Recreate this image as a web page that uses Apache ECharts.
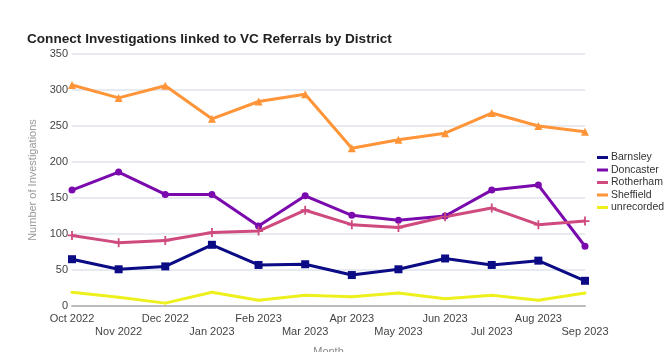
<!DOCTYPE html>
<html><head><meta charset="utf-8">
<script src="https://cdn.jsdelivr.net/npm/echarts@6/dist/echarts.min.js"></script>
<style>html,body{margin:0;padding:0;background:#fff}#c{width:670px;height:352px}</style>
</head><body><div id="c"></div>
<script>
const months = ['Oct 2022','Nov 2022','Dec 2022','Jan 2023','Feb 2023','Mar 2023','Apr 2023','May 2023','Jun 2023','Jul 2023','Aug 2023','Sep 2023'];
const barnsley   = [65, 51, 55, 85, 57, 58, 43, 51, 66, 57, 63, 35];
const doncaster  = [161, 186, 155, 155, 111, 153, 126, 119, 125, 161, 168, 83];
const rotherham  = [98, 88, 91, 102, 104, 133, 113, 109, 124, 136, 113, 118];
const sheffield  = [307, 289, 306, 260, 284, 294, 219, 231, 240, 268, 250, 242];
const unrecorded = [19, 12, 4, 19, 8, 15, 13, 18, 10, 15, 8, 18];
const yTicks = [0, 50, 100, 150, 200, 250, 300, 350];

const font = '"Liberation Sans", Arial, sans-serif';
function s(name, data, color, symbol, size) {
  return { name, type: 'line', data, color, symbol, symbolSize: size,
    lineStyle: { width: 3, color }, itemStyle: { color }, showSymbol: true };
}
const chart = echarts.init(document.getElementById('c'));
chart.setOption({
  animation: false,
  title: { text: 'Connect Investigations linked to VC Referrals by District', left: 22, top: 27,
    textStyle: { fontFamily: font, fontSize: 13.6, fontWeight: 'bold', color: '#222' } },
  grid: { left: 72, right: 85, top: 54, bottom: 46, containLabel: false, outerBoundsMode: 'none' },
  legend: { orient: 'vertical', left: 592, top: 147, itemWidth: 11, itemHeight: 3, itemGap: 1.5,
    icon: 'rect', textStyle: { fontFamily: font, fontSize: 10.5, color: '#333', padding: [0,0,0,-2] },
    data: ['Barnsley','Doncaster','Rotherham','Sheffield','unrecorded'] },
  xAxis: { type: 'category', data: months, boundaryGap: false,
    name: 'Month', nameLocation: 'middle', nameGap: 40,
    nameTextStyle: { fontFamily: font, fontSize: 11, color: '#888' },
    axisLine: { lineStyle: { color: '#bbb', width: 2 } }, axisTick: { show: false },
    axisLabel: { interval: 0, fontFamily: font, fontSize: 11, color: '#444', margin: 6,
      formatter: (v, i) => (i % 2 ? '\n' + v : v), lineHeight: 13 } },
  yAxis: { type: 'value', min: 0, max: 350, interval: 50,
    name: 'Number of Investigations', nameLocation: 'middle', nameGap: 27,
    nameTextStyle: { fontFamily: font, fontSize: 11, color: '#999' },
    axisLine: { show: false }, axisTick: { show: false },
    splitLine: { lineStyle: { color: '#dfe4ec', width: 1.5 } },
    axisLabel: { fontFamily: font, fontSize: 11, color: '#444', margin: 4,
      formatter: v => yTicks.includes(v) ? String(v) : '' } },
  series: [
    s('Barnsley', barnsley, '#0b0b85', 'rect', 8),
    s('Doncaster', doncaster, '#7a0aad', 'circle', 7),
    s('Rotherham', rotherham, '#cf4a7e', 'path://M4,0H6V4H10V6H6V10H4V6H0V4H4Z', 9),
    s('Sheffield', sheffield, '#ff9538', 'triangle', 8),
    s('unrecorded', unrecorded, '#eef01e', 'circle', 3)
  ]
});
</script></body></html>
